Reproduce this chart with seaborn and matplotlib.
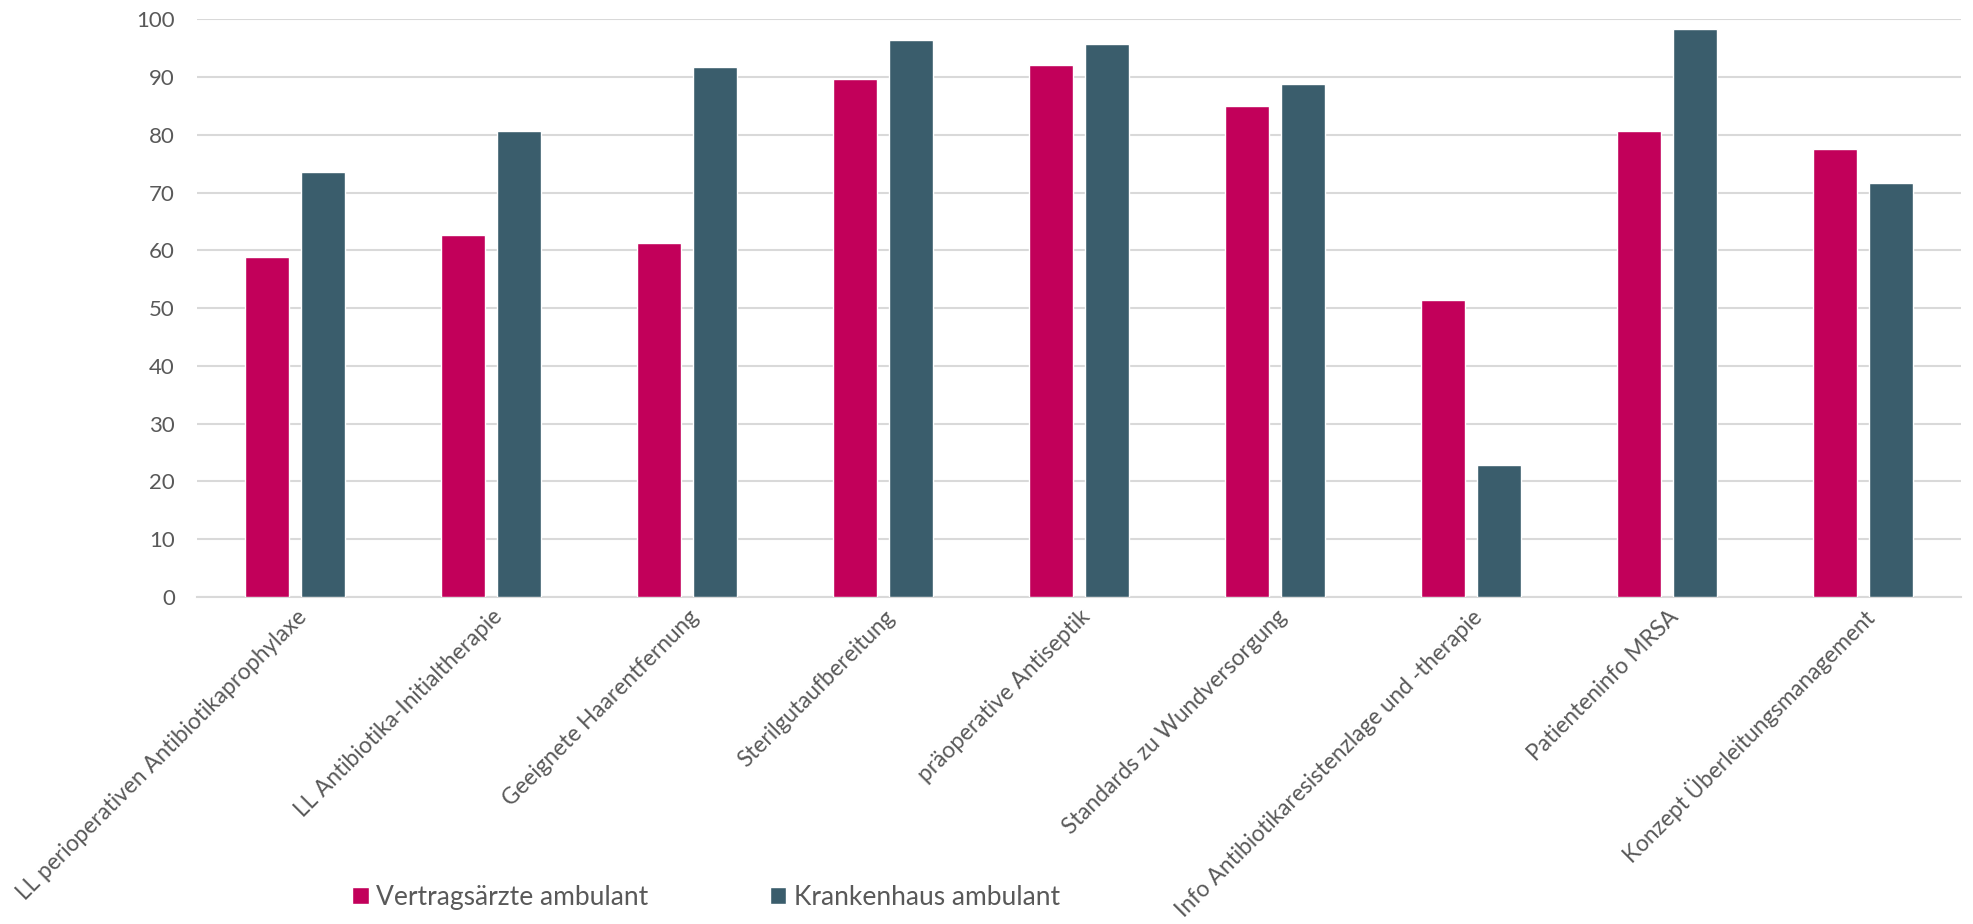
import matplotlib
matplotlib.use("Agg")
import matplotlib.pyplot as plt
import matplotlib.transforms as mtransforms
import pandas as pd
import seaborn as sns

# Kategorien und Werte (in %)
categories = [
    "LL perioperativen Antibiotikaprophylaxe",
    "LL Antibiotika-Initialtherapie",
    "Geeignete Haarentfernung",
    "Sterilgutaufbereitung",
    "präoperative Antiseptik",
    "Standards zu Wundversorgung",
    "Info Antibiotikaresistenzlage und -therapie",
    "Patienteninfo MRSA",
    "Konzept Überleitungsmanagement",
]
vertragsaerzte = [58.9, 62.7, 61.3, 89.7, 92.1, 85.0, 51.4, 80.7, 77.6]
krankenhaus = [73.5, 80.7, 91.7, 96.5, 95.8, 88.8, 22.8, 98.3, 71.7]
series_names = ["Vertragsärzte ambulant", "Krankenhaus ambulant"]
yticks = [0, 10, 20, 30, 40, 50, 60, 70, 80, 90, 100]

RED = "#C2005A"
BLUE = "#3A5D6C"
GRID = "#D9D9D9"
TEXT = "#595959"

df = pd.DataFrame(
    {
        "Kategorie": categories * 2,
        "Wert": vertragsaerzte + krankenhaus,
        "Gruppe": [series_names[0]] * len(categories) + [series_names[1]] * len(categories),
    }
)

sns.set_theme(style="white")
plt.rcParams["font.family"] = ["Lato", "DejaVu Sans"]

fig = plt.figure(figsize=(19.73, 9.24), dpi=100)
ax = fig.add_axes([0.0999, 0.3539, 0.8940, 0.6252])

sns.barplot(
    data=df,
    x="Kategorie",
    y="Wert",
    hue="Gruppe",
    hue_order=series_names,
    order=categories,
    palette=[RED, BLUE],
    saturation=1,
    width=0.571,
    gap=0.214,
    errorbar=None,
    ax=ax,
    zorder=3,
)

ax.set_xlim(-0.5, len(categories) - 0.5)
ax.set_ylim(0, 100)
ax.set_yticks(yticks)
ax.yaxis.grid(True, color=GRID, linewidth=1.5, zorder=0)
ax.set_axisbelow(True)
for side in ("top", "right", "left"):
    ax.spines[side].set_visible(False)
ax.spines["bottom"].set_color(GRID)
ax.spines["bottom"].set_linewidth(1.5)
ax.set_xlabel("")
ax.set_ylabel("")

ax.tick_params(axis="y", length=0, pad=16, labelsize=16, labelcolor=TEXT)
ax.tick_params(axis="x", length=0, pad=12, labelsize=16.3, labelcolor=TEXT)
shift = mtransforms.ScaledTranslation(8 / 100, 0, fig.dpi_scale_trans)
for lbl in ax.get_xticklabels():
    lbl.set_rotation(45)
    lbl.set_ha("right")
    lbl.set_va("center")
    lbl.set_rotation_mode("anchor")
    lbl.set_transform(lbl.get_transform() + shift)

handles, labels = ax.get_legend_handles_labels()
ax.get_legend().remove()
leg = ax.legend(
    handles,
    labels,
    loc="center",
    bbox_to_anchor=(0.358, 0.029),
    bbox_transform=fig.transFigure,
    ncol=2,
    frameon=False,
    fontsize=19,
    handlelength=0.62,
    handleheight=0.62,
    handletextpad=0.3,
    columnspacing=4.6,
)
for t in leg.get_texts():
    t.set_color(TEXT)

fig.savefig("out.png", dpi=100)
